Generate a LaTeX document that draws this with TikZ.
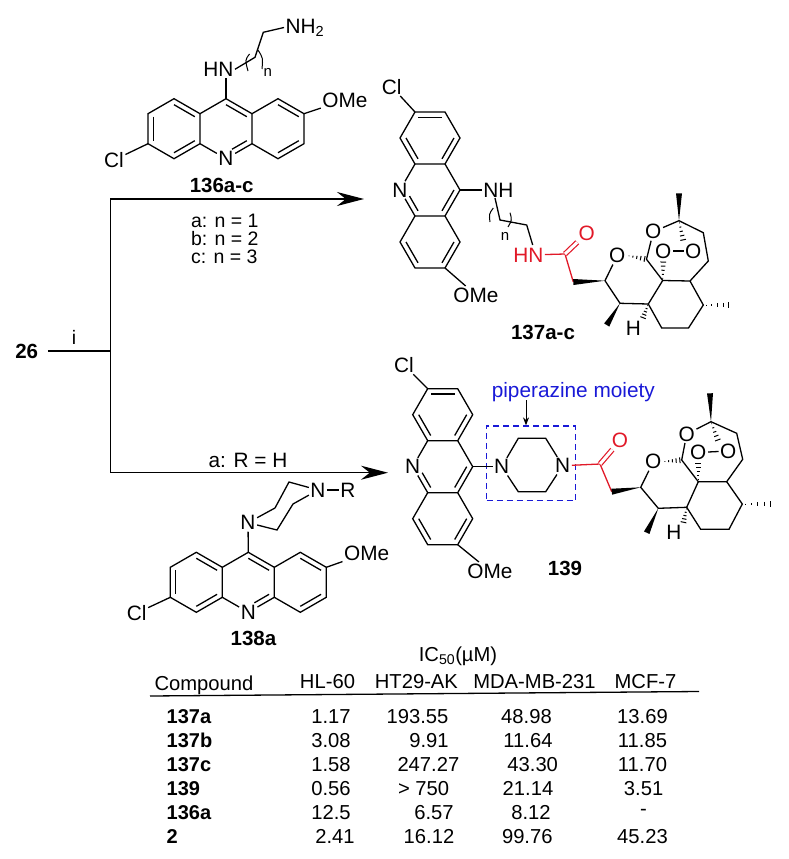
\documentclass[tikz,border=0pt]{standalone}
\usepackage{fontspec}
\setmainfont{Liberation Sans}
\usetikzlibrary{arrows.meta,calc}
\definecolor{bondred}{RGB}{225,25,40}
\definecolor{tagblue}{RGB}{25,25,215}
\tikzset{
	atom/.style={font=\fontsize{20.8}{24}\selectfont,inner sep=1pt},
	tag/.style={font=\fontsize{20.5}{24}\selectfont\bfseries,inner sep=1pt},
	cond/.style={font=\fontsize{19.5}{22}\selectfont,inner sep=1pt},
	small/.style={font=\fontsize{15}{18}\selectfont,inner sep=0pt},
	cell/.style={font=\fontsize{20.2}{24}\selectfont,inner sep=0pt},
	rowhead/.style={font=\fontsize{20}{24}\selectfont\bfseries,inner sep=0pt,anchor=west},
	carbonyl/.style={double,double distance=3pt,line width=1.2pt,line cap=butt}
}
\newcommand{\wedgebond}[2]{\fill ($(#2)!3pt!90:(#1)$) -- (#1) -- ($(#2)!3pt!-90:(#1)$) -- cycle;}
\newcommand{\hashbond}[2]{
	\foreach \hs in {0.1,0.3,0.5,0.7,0.9}{
		\pgfmathsetmacro{\hw}{\hs*3.2}
		\draw[line width=1pt] ($(#1)!\hs!(#2)!\hw pt!90:(#2)$) -- ($(#1)!\hs!(#2)!\hw pt!-90:(#2)$);
	}
}
\newcommand{\innerbond}[4][]{\draw[#1] ($(#2)!.2!(#4)$) -- ($(#3)!.2!(#4)$);}
\newcommand{\acridine}[1]{
	\begin{scope}[#1]
		\foreach \p/\xx/\yy in {ac9/0/0,ab/26/15,ac/26/45,ad/-26/45,ae/-26/15,af/-52/0,ag/-78/15,acl/-78/45,ai/-52/60,aj/52/0,aom/78/15,al/78/45,am/52/60,cl/-52/30,cm/0/30,cr/52/30}
			\coordinate (\p) at (\xx,\yy);
		\node[atom] (an) at (0,60) {N};
		\draw (ac9) -- (ab) -- (ac) -- (an) -- (ad) -- (ae) -- (ac9);
		\draw (ae) -- (af) -- (ag) -- (acl) -- (ai) -- (ad);
		\draw (ab) -- (aj) -- (aom) -- (al) -- (am) -- (ac);
		\innerbond{ae}{af}{cl}
		\innerbond{ag}{acl}{cl}
		\innerbond{ai}{ad}{cl}
		\innerbond{ac9}{ab}{cm}
		\innerbond[shorten <=7pt]{an}{ac}{cm}
		\innerbond{aj}{aom}{cr}
		\innerbond{al}{am}{cr}
	\end{scope}
}
\newcommand{\artemisinin}{
	\node[atom] (oa) at (poa) {O};
	\node[atom] (ob) at (pob) {O};
	\node[atom] (oc) at (poc) {O};
	\node[atom] (od) at (pod) {O};
	\node[atom] (hh) at (ph) {H};
	\draw (top) -- (oa) -- (ace) -- (j2) -- (j1) -- (cb) -- (ca) -- (top);
	\draw (ob) -- (oc);
	\draw (j1) -- (c3) -- (c4) -- (c5) -- (c6) -- (j2);
	\draw (c6) -- (c7) -- (c8) -- (od);
	\wedgebond{top}{me}
	\wedgebond{c7}{me3}
	\hashbond{top}{oc.north west}
	\hashbond{j2}{ob.south}
	\hashbond{od.east}{ace}
	\hashbond{c3}{me2}
	\hashbond{c6}{hh.north east}
}
\begin{document}
\begin{tikzpicture}[x=1pt,y=-1pt,line width=1.3pt]
\useasboundingbox (0,0) rectangle (788,859);

% reaction lines
\node[tag] (n26) at (26.7,351) {26};
\node[cond] (stepi) at (74,337) {i};
\coordinate (fork) at (110.7,351);
\coordinate (forkup) at (110.7,199);
\coordinate (forkdown) at (110.7,472.7);
\coordinate (tipup) at (364,199);
\coordinate (tipdown) at (388,472.7);
\draw ([xshift=8pt]n26.east) -- (fork);
\draw[-{Stealth[length=27pt,width=14pt]}] (fork) -- (forkup) -- (tipup);
\draw[-{Stealth[length=27pt,width=14pt]}] (fork) -- (forkdown) -- (tipdown);
\node[cond,anchor=west] (conda) at (189.5,221) {a: n = 1};
\node[cond,anchor=west] (condb) at (189.5,238.5) {b: n = 2};
\node[cond,anchor=west] (condc) at (189.5,256.5) {c: n = 3};
\node[atom] (condr) at (248,460) {a: R = H};

% 136
\acridine{shift={(226,98.7)}}
\node[atom] (cl136) at (114,160) {Cl};
\node[atom] (ome136) at (345,100) {OMe};
\node[atom] (hn136) at (218.3,69.3) {HN};
\node[atom,anchor=west] (nh2) at (284,27.5) {NH\textsubscript{2}};
\node[small] (n136) at (267.7,72) {n};
\node[tag] (lab136) at (221.7,185) {136a-c};
\draw (acl) -- (cl136);
\draw (aom) -- (ome136);
\draw (ac9) -- (ac9 |- hn136.south);
\coordinate (ch1) at (255,57.3);
\coordinate (ch2) at (263.3,32.3);
\draw (hn136.east) -- (ch1) -- (ch2) -- (nh2.west);
\draw[line width=1pt] (249.5,54) .. controls (245,60) .. (248,71);
\draw[line width=1pt] (258,50) .. controls (263,58) .. (262,69);

% 137
\acridine{shift={(460,190)},rotate=-90}
\node[atom] (cl137) at (391.7,86.7) {Cl};
\node[atom] (ome137) at (476,295) {OMe};
\node[atom] (nh137) at (498.3,190) {NH};
\node[atom,text=bondred] (hn137) at (528.3,255) {HN};
\node[atom,text=bondred] (o137) at (586.7,233.3) {O};
\node[small] (n137) at (505,236) {n};
\node[tag] (lab137) at (543,332.7) {137a-c};
\draw (acl) -- (cl137);
\draw (aom) -- (ome137);
\draw (ac9) -- (nh137);
\coordinate (ch3) at (495,198);
\coordinate (ch4) at (500,220);
\coordinate (ch5) at (526.7,225);
\coordinate (ch6) at (532.7,245);
\draw (ch3) -- (ch4) -- (ch5) -- (ch6);
\draw[line width=1pt] (493.3,208) .. controls (489,214) .. (490,222);
\draw[line width=1pt] (510,212.7) .. controls (512,220) .. (508,227);
\foreach \p/\xx/\yy in {top/679/220.7,me/679/193.3,poa/653.3/231.7,pob/663.3/251,poc/693.3/251,ca/703.3/232.7,cb/708.3/261,j1/690/281,j2/662.7/280.5,ace/646.5/259.3,pod/617.3/255.5,c8/605/280.7,c7/620/303.3,c6/648.3/304,c3/703.3/305,c4/688.5/328,c5/661.7/328,me2/731.7/305,me3/606.7/325,ph/633.3/328}
	\coordinate (\p) at (\xx,\yy);
\artemisinin
\coordinate (co137) at (565,254);
\coordinate (ch137) at (573.3,282);
\draw[draw=bondred] (hn137) -- (co137) -- (ch137);
\draw[carbonyl,draw=bondred] (co137) -- (o137);
\wedgebond{c8}{ch137}

% 139
\acridine{shift={(472.7,466.7)},rotate=-90}
\node[atom] (cl139) at (404,365) {Cl};
\node[atom] (ome139) at (490,571) {OMe};
\node[atom] (na139) at (501.7,466.7) {N};
\node[atom] (nb139) at (562.7,465.7) {N};
\node[atom,text=bondred] (o139) at (620,440.7) {O};
\node[tag] (lab139) at (565,568.3) {139};
\node[atom,text=tagblue] (moiety) at (573.3,391.7) {piperazine moiety};
\node[draw=tagblue,dash pattern=on 6pt off 4pt,line width=1.2pt,minimum width=89pt,minimum height=74.7pt,inner sep=0pt] (boxpip) at (531.2,463.3) {};
\coordinate (arrowtail) at (526,400);
\draw[-{Stealth[length=8pt,width=6pt]},line width=1pt] (arrowtail) -- (arrowtail |- boxpip.north);
\draw (acl) -- (cl139);
\draw (aom) -- (ome139);
\draw (ac9) -- (na139);
\draw (na139) -- (518.3,438.3) -- (545.7,438.3) -- (nb139) -- (545.7,491.7) -- (518.3,491.7) -- (na139);
\foreach \p/\xx/\yy in {top/711/421.7,me/710/393.3,poa/686.7/434,pob/698.3/452.5,poc/728.3/451,ca/736.7/433.3,cb/742.7/459.3,j1/726.7/481.7,j2/698.3/481.7,ace/681.7/460,pod/653.3/461.7,c8/640.7/487.3,c7/658.3/508.3,c6/686.7/507.3,c3/742.3/504,c4/729/529.3,c5/700.7/529.3,me2/773.3/504,me3/646.7/532.7,ph/674/532.7}
	\coordinate (\p) at (\xx,\yy);
\artemisinin
\coordinate (co139) at (600,464);
\coordinate (ch139) at (611.7,491.7);
\draw[draw=bondred] (nb139) -- (co139) -- (ch139);
\draw[carbonyl,draw=bondred] (co139) -- (o139);
\wedgebond{c8}{ch139}

% 138
\acridine{shift={(248.3,552.3)}}
\node[atom] (cl138) at (136.7,613) {Cl};
\node[atom] (ome138) at (366.7,553) {OMe};
\node[atom] (na138) at (248,522.7) {N};
\node[atom] (nb138) at (318,490) {N};
\node[atom] (r138) at (348,490) {R};
\node[tag] (lab138) at (253.5,638) {138a};
\draw (acl) -- (cl138);
\draw (aom) -- (ome138);
\draw (ac9) -- (na138);
\draw (na138) -- (275,508) -- (289,482) -- (nb138) -- (293,504) -- (277,530) -- (na138);
\draw (nb138) -- (r138);

% table
\node[cell,anchor=base] (ic50) at (458,661) {IC\textsubscript{50}(µM)};
\node[cell,anchor=base] (hcomp) at (204,690) {Compound};
\node[cell,anchor=base] (hhl) at (327.5,688.3) {HL-60};
\node[cell,anchor=base] (hht) at (416.4,688.3) {HT29-AK};
\node[cell,anchor=base] (hmda) at (534.5,688.3) {MDA-MB-231};
\node[cell,anchor=base] (hmcf) at (645.5,688.3) {MCF-7};
\coordinate (rulea) at (150,696);
\coordinate (ruleb) at (699,691.5);
\draw (rulea) -- (ruleb);
\foreach \txt/\yy [count=\i] in {137a/716.7,137b/740.3,137c/764.3,139/788.3,136a/812.3,2/836.7}
	\node[rowhead] (row\i) at (166,\yy) {\txt};
\foreach \txt/\xx/\yy [count=\i] in {
	1.17/331/716.7,3.08/331/740.3,1.58/331/764.3,0.56/331/788.3,12.5/331/812.3,2.41/335/836.7,
	193.55/417.5/716.7,9.91/429/740.3,247.27/428.4/764.3,> 750/423.6/788.3,6.57/434/812.3,16.12/429/836.7,
	48.98/526.5/716.7,11.64/528/740.3,43.30/532.7/764.3,21.14/528/788.3,8.12/531/812.3,99.76/527.3/836.7,
	13.69/642.5/716.7,11.85/642.5/740.3,11.70/642.5/764.3,3.51/643.6/788.3,-/643.6/812.3,45.23/642.5/836.7}
	\node[cell] (val\i) at (\xx,\yy) {\txt};
\end{tikzpicture}
\end{document}
